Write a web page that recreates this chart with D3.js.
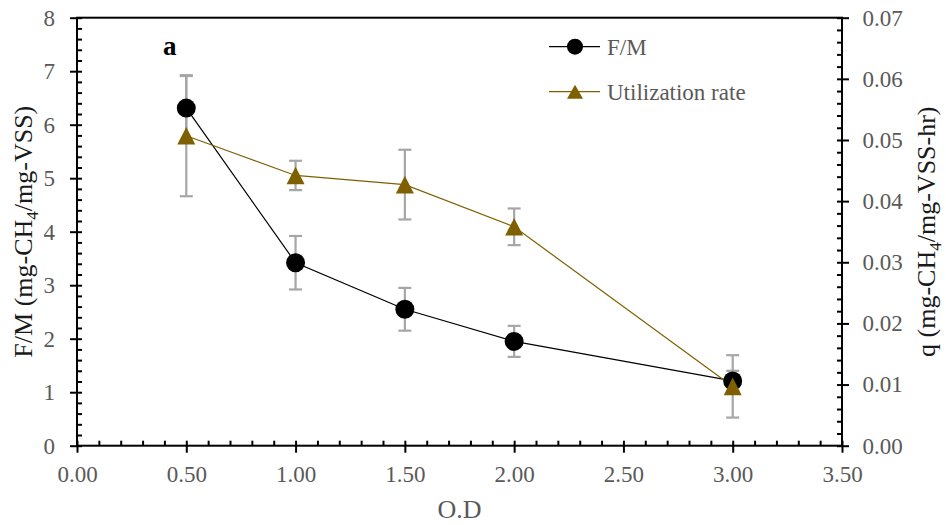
<!DOCTYPE html>
<html>
<head>
<meta charset="utf-8">
<script src="https://cdn.jsdelivr.net/npm/d3@7/dist/d3.min.js"></script>
<style>
  html, body { margin: 0; padding: 0; background: #fff; }
  svg { display: block; }
  text { font-family: "Liberation Serif", "Times New Roman", serif; }
</style>
</head>
<body>
<svg id="chart" width="946" height="525"></svg>
<script>
// Optical density settings (x) and the two measured series
const od = [0.5, 1.0, 1.5, 2.0, 3.0];
const fm = [6.31, 3.42, 2.55, 1.95, 1.21];          // F/M, left axis
const fmErr = [0.60, 0.50, 0.40, 0.29, 0.19];
const util = [0.0507, 0.0442, 0.0427, 0.0358, 0.0097]; // q, right axis
const utilErr = [0.0099, 0.0024, 0.0057, 0.0030, 0.0051];

const xTicks = [0, 0.5, 1.0, 1.5, 2.0, 2.5, 3.0, 3.5];
const yLeftTicks = [0, 1, 2, 3, 4, 5, 6, 7, 8];
const yRightTicks = [0, 0.01, 0.02, 0.03, 0.04, 0.05, 0.06, 0.07];

const seriesNames = ["F/M", "Utilization rate"];
const brown = "#7f6000";
const labelGrey = "#595959";
const errGrey = "#a6a6a6";

const svg = d3.select("#chart");
const plot = { left: 77, right: 842, top: 17.7, bottom: 445.7 };

const x = d3.scaleLinear().domain([0, 3.5]).range([plot.left, plot.right]);
const yL = d3.scaleLinear().domain([0, 8]).range([plot.bottom, plot.top]);
const yR = d3.scaleLinear().domain([0, 0.07]).range([plot.bottom, plot.top]);

const minorX = d3.range(0, 35.01, 1).map(v => v / 10);
const minorYL = d3.range(0, 40.01, 1).map(v => v / 5);
const minorYR = d3.range(0, 35.01, 1).map(v => v / 500);

function styleAxis(g) {
  g.selectAll(".domain").remove();
  g.selectAll(".tick line").attr("stroke", "#000").attr("stroke-width", 2);
  g.selectAll(".tick text")
    .attr("fill", labelGrey)
    .style("font-size", "23px")
    .style("font-family", "'Liberation Serif', 'Times New Roman', serif");
}

// Inside tick marks (major and minor)
svg.append("g").attr("transform", `translate(0,${plot.bottom})`)
  .call(d3.axisTop(x).tickValues(minorX).tickSize(5).tickFormat(""))
  .call(styleAxis);
svg.append("g").attr("transform", `translate(${plot.left},0)`)
  .call(d3.axisRight(yL).tickValues(minorYL).tickSize(5).tickFormat(""))
  .call(styleAxis);
svg.append("g").attr("transform", `translate(${plot.right},0)`)
  .call(d3.axisLeft(yR).tickValues(minorYR).tickSize(5).tickFormat(""))
  .call(styleAxis);

// Outside major ticks with labels
svg.append("g").attr("transform", `translate(0,${plot.bottom})`)
  .call(d3.axisBottom(x).tickValues(xTicks).tickSize(7).tickPadding(12.5).tickFormat(d3.format(".2f")))
  .call(styleAxis);
svg.append("g").attr("transform", `translate(${plot.left},0)`)
  .call(d3.axisLeft(yL).tickValues(yLeftTicks).tickSize(7).tickPadding(15).tickFormat(d3.format("d")))
  .call(styleAxis);
svg.append("g").attr("transform", `translate(${plot.right},0)`)
  .call(d3.axisRight(yR).tickValues(yRightTicks).tickSize(7).tickPadding(13.5).tickFormat(d3.format(".2f")))
  .call(styleAxis);

// Plot frame
svg.append("rect")
  .attr("x", plot.left).attr("y", plot.top)
  .attr("width", plot.right - plot.left).attr("height", plot.bottom - plot.top)
  .attr("fill", "none").attr("stroke", "#000").attr("stroke-width", 2);

// Error bars
function errorBars(vals, errs, scale) {
  const g = svg.append("g").attr("stroke", errGrey).attr("stroke-width", 2.2).attr("fill", "none");
  vals.forEach((v, i) => {
    const cx = x(od[i]);
    const y1 = scale(v + errs[i]), y2 = scale(v - errs[i]);
    g.append("line").attr("x1", cx).attr("x2", cx).attr("y1", y1).attr("y2", y2);
    g.append("line").attr("x1", cx - 6.5).attr("x2", cx + 6.5).attr("y1", y1).attr("y2", y1);
    g.append("line").attr("x1", cx - 6.5).attr("x2", cx + 6.5).attr("y1", y2).attr("y2", y2);
  });
}
errorBars(fm, fmErr, yL);
errorBars(util, utilErr, yR);

// Series lines
const fmLine = d3.line().x((d, i) => x(od[i])).y(d => yL(d));
const utilLine = d3.line().x((d, i) => x(od[i])).y(d => yR(d));

svg.append("path").datum(fm).attr("d", fmLine)
  .attr("fill", "none").attr("stroke", "#000").attr("stroke-width", 1.2);
svg.append("path").datum(util).attr("d", utilLine)
  .attr("fill", "none").attr("stroke", brown).attr("stroke-width", 1.2);

// Markers
function trianglePath(w, h) {
  return `M0,${-h / 2}L${w / 2},${h / 2}L${-w / 2},${h / 2}Z`;
}

svg.append("g").selectAll("circle").data(fm).join("circle")
  .attr("cx", (d, i) => x(od[i])).attr("cy", d => yL(d))
  .attr("r", 9.5).attr("fill", "#000");

svg.append("g").selectAll("path").data(util).join("path")
  .attr("transform", (d, i) => `translate(${x(od[i])},${yR(d)})`)
  .attr("d", trianglePath(18, 17.6)).attr("fill", brown);

// Panel letter
svg.append("text").attr("x", 163).attr("y", 54.5)
  .style("font-size", "27px").style("font-weight", "bold").attr("fill", "#000").text("a");

// Legend
const legend = svg.append("g");
const legY = [46.7, 91.7];
legend.append("line").attr("x1", 549).attr("x2", 600).attr("y1", legY[0]).attr("y2", legY[0])
  .attr("stroke", "#000").attr("stroke-width", 1.2);
legend.append("circle").attr("cx", 575).attr("cy", legY[0]).attr("r", 8).attr("fill", "#000");
legend.append("line").attr("x1", 549).attr("x2", 600).attr("y1", legY[1]).attr("y2", legY[1])
  .attr("stroke", brown).attr("stroke-width", 1.2);
legend.append("path").attr("transform", `translate(575,${legY[1]})`)
  .attr("d", trianglePath(16, 14)).attr("fill", brown);
seriesNames.forEach((name, i) => {
  legend.append("text").attr("x", 607).attr("y", legY[i]).attr("dy", "0.34em")
    .style("font-size", "23px").attr("fill", labelGrey).text(name);
});

// Axis titles
svg.append("text")
  .attr("x", (plot.left + plot.right) / 2).attr("y", 518)
  .attr("text-anchor", "middle").style("font-size", "26px").attr("fill", labelGrey)
  .text("O.D");

function chemTitle(tx, ty, before, after) {
  const t = svg.append("text")
    .attr("transform", `translate(${tx},${ty}) rotate(-90)`)
    .attr("text-anchor", "middle").style("font-size", "26px").attr("fill", "#1a1a1a");
  t.append("tspan").text(before);
  t.append("tspan").attr("dy", 6).style("font-size", "17px").text("4");
  t.append("tspan").attr("dy", -6).text(after);
}
chemTitle(32, 231.7, "F/M (mg-CH", "/mg-VSS)");
chemTitle(935, 231.7, "q (mg-CH", "/mg-VSS-hr)");
</script>
</body>
</html>
